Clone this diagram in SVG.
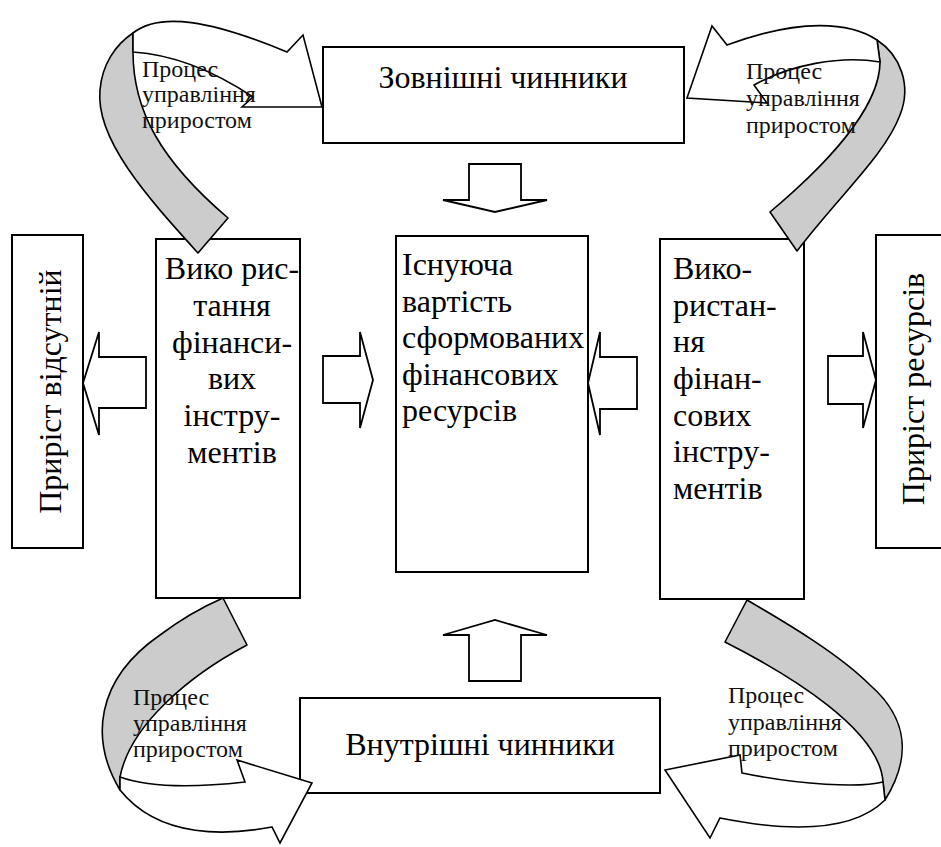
<svg xmlns="http://www.w3.org/2000/svg" width="941" height="847" viewBox="0 0 941 847">
<style>
.box{fill:#fff;stroke:#000;stroke-width:2}
.blk{fill:#fff;stroke:#000;stroke-width:1.8;stroke-linejoin:miter}
.gray{fill:#cccccc;stroke:#000;stroke-width:1.6;stroke-linejoin:round}
.wht{fill:#fff;stroke:#000;stroke-width:1.6;stroke-linejoin:miter}
.t{font-family:"Liberation Serif","Times New Roman",serif;font-size:32px;fill:#000}
.s{font-family:"Liberation Serif","Times New Roman",serif;font-size:24px;fill:#111}
</style>
<rect width="941" height="847" fill="#fff"/>

<g id="external">
<rect class="box" x="323" y="47" width="361" height="96"/>
<text class="t" x="503" y="88" text-anchor="middle">Зовнішні чинники</text>
</g>

<g id="internal">
<rect class="box" x="300" y="698" width="360" height="95"/>
<text class="t" x="480" y="755" text-anchor="middle">Внутрішні чинники</text>
</g>

<g id="center">
<rect class="box" x="396" y="236" width="192" height="336"/>
<text class="t" x="402" y="275">Існуюча</text>
<text class="t" x="402" y="312">вартість</text>
<text class="t" x="402" y="348">сформованих</text>
<text class="t" x="402" y="385">фінансових</text>
<text class="t" x="402" y="421">ресурсів</text>
</g>

<g id="left-use">
<rect class="box" x="156" y="239" width="144" height="359"/>
<g text-anchor="middle">
<text class="t" x="232" y="279">Вико рис-</text>
<text class="t" x="232" y="316">тання</text>
<text class="t" x="232" y="353">фінанси-</text>
<text class="t" x="232" y="389">вих</text>
<text class="t" x="232" y="426">інстру-</text>
<text class="t" x="232" y="463">ментів</text>
</g>
</g>

<g id="right-use">
<rect class="box" x="660" y="239" width="144" height="360"/>
<text class="t" x="673" y="279">Вико-</text>
<text class="t" x="673" y="316">ристан-</text>
<text class="t" x="673" y="352">ня</text>
<text class="t" x="673" y="389">фінан-</text>
<text class="t" x="673" y="426">сових</text>
<text class="t" x="673" y="462">інстру-</text>
<text class="t" x="673" y="499">ментів</text>
</g>

<g id="no-growth">
<rect class="box" x="12" y="235" width="71" height="313"/>
<text class="t" transform="translate(61,391.5) rotate(-90)" text-anchor="middle">Приріст відсутній</text>
</g>

<g id="growth">
<rect class="box" x="876" y="235" width="72" height="313"/>
<text class="t" transform="translate(924,389) rotate(-90)" text-anchor="middle">Приріст ресурсів</text>
</g>

<g id="connectors">
<path class="blk" d="M469,164 L521,164 L521,200 L547,200 L495,212 L443,200 L469,200 Z"/>
<path class="blk" d="M469,681 L521,681 L521,635 L547,635 L495,620 L443,635 L469,635 Z"/>
<path class="blk" d="M146,357 L146,408 L99,408 L99,435 L83,383 L99,332 L99,357 Z"/>
<path class="blk" d="M323,356 L360,356 L360,332 L373,380 L360,428 L360,403 L323,403 Z"/>
<path class="blk" d="M637,357 L637,409 L600,409 L600,435 L588,383 L600,332 L600,357 Z"/>
<path class="blk" d="M828,356 L863,356 L863,332 L876,380 L863,428 L863,404 L828,404 Z"/>

<g id="curve-tl">
<path class="gray" d="M198,253 C150,200 95,140 100,90 C102,65 115,45 133,33 L133,52 C133,110 160,160 228,218 Z"/>
<path class="wht" d="M133,33 C160,12 210,20 287,52 L303,35 L322,107 L242,107 L253,97 C220,75 180,55 133,52 Z"/>
</g>
<g id="curve-tr">
<path class="gray" d="M797,251 L770,212 C820,170 880,110 880,62 L877,40 C900,55 912,85 900,115 C885,155 840,195 797,251 Z"/>
<path class="wht" d="M877,40 C850,22 800,18 727,45 L712,26 L687,98 L767,103 L754,85 C790,65 840,55 880,62 Z"/>
</g>
<g id="curve-bl">
<path class="gray" d="M223,598 L247,645 C190,675 130,725 120,777 L120,790 C90,740 95,680 160,635 C180,620 200,608 223,598 Z"/>
<path class="wht" d="M120,777 C150,788 200,787 245,782 L237,760 L312,783 L280,843 L272,827 C230,835 160,840 120,790 Z"/>
</g>
<g id="curve-br">
<path class="gray" d="M747,600 L725,642 C790,675 880,730 883,782 L885,800 C910,760 910,720 870,685 C840,655 790,625 747,600 Z"/>
<path class="wht" d="M883,782 C860,788 800,785 742,773 L740,755 L665,770 L710,838 L720,818 C780,830 850,835 885,800 Z"/>
</g>
</g>

<g id="labels">
<g id="label-tl">
<text class="s" x="142" y="77">Процес</text>
<text class="s" x="142" y="102">управління</text>
<text class="s" x="142" y="128">приростом</text>
</g>
<g id="label-tr">
<text class="s" x="746" y="79">Процес</text>
<text class="s" x="746" y="106">управління</text>
<text class="s" x="746" y="133">приростом</text>
</g>
<g id="label-bl">
<text class="s" x="133" y="705">Процес</text>
<text class="s" x="133" y="731">управління</text>
<text class="s" x="133" y="757">приростом</text>
</g>
<g id="label-br">
<text class="s" x="728" y="703">Процес</text>
<text class="s" x="728" y="730">управління</text>
<text class="s" x="728" y="756">приростом</text>
</g>
</g>
</svg>
